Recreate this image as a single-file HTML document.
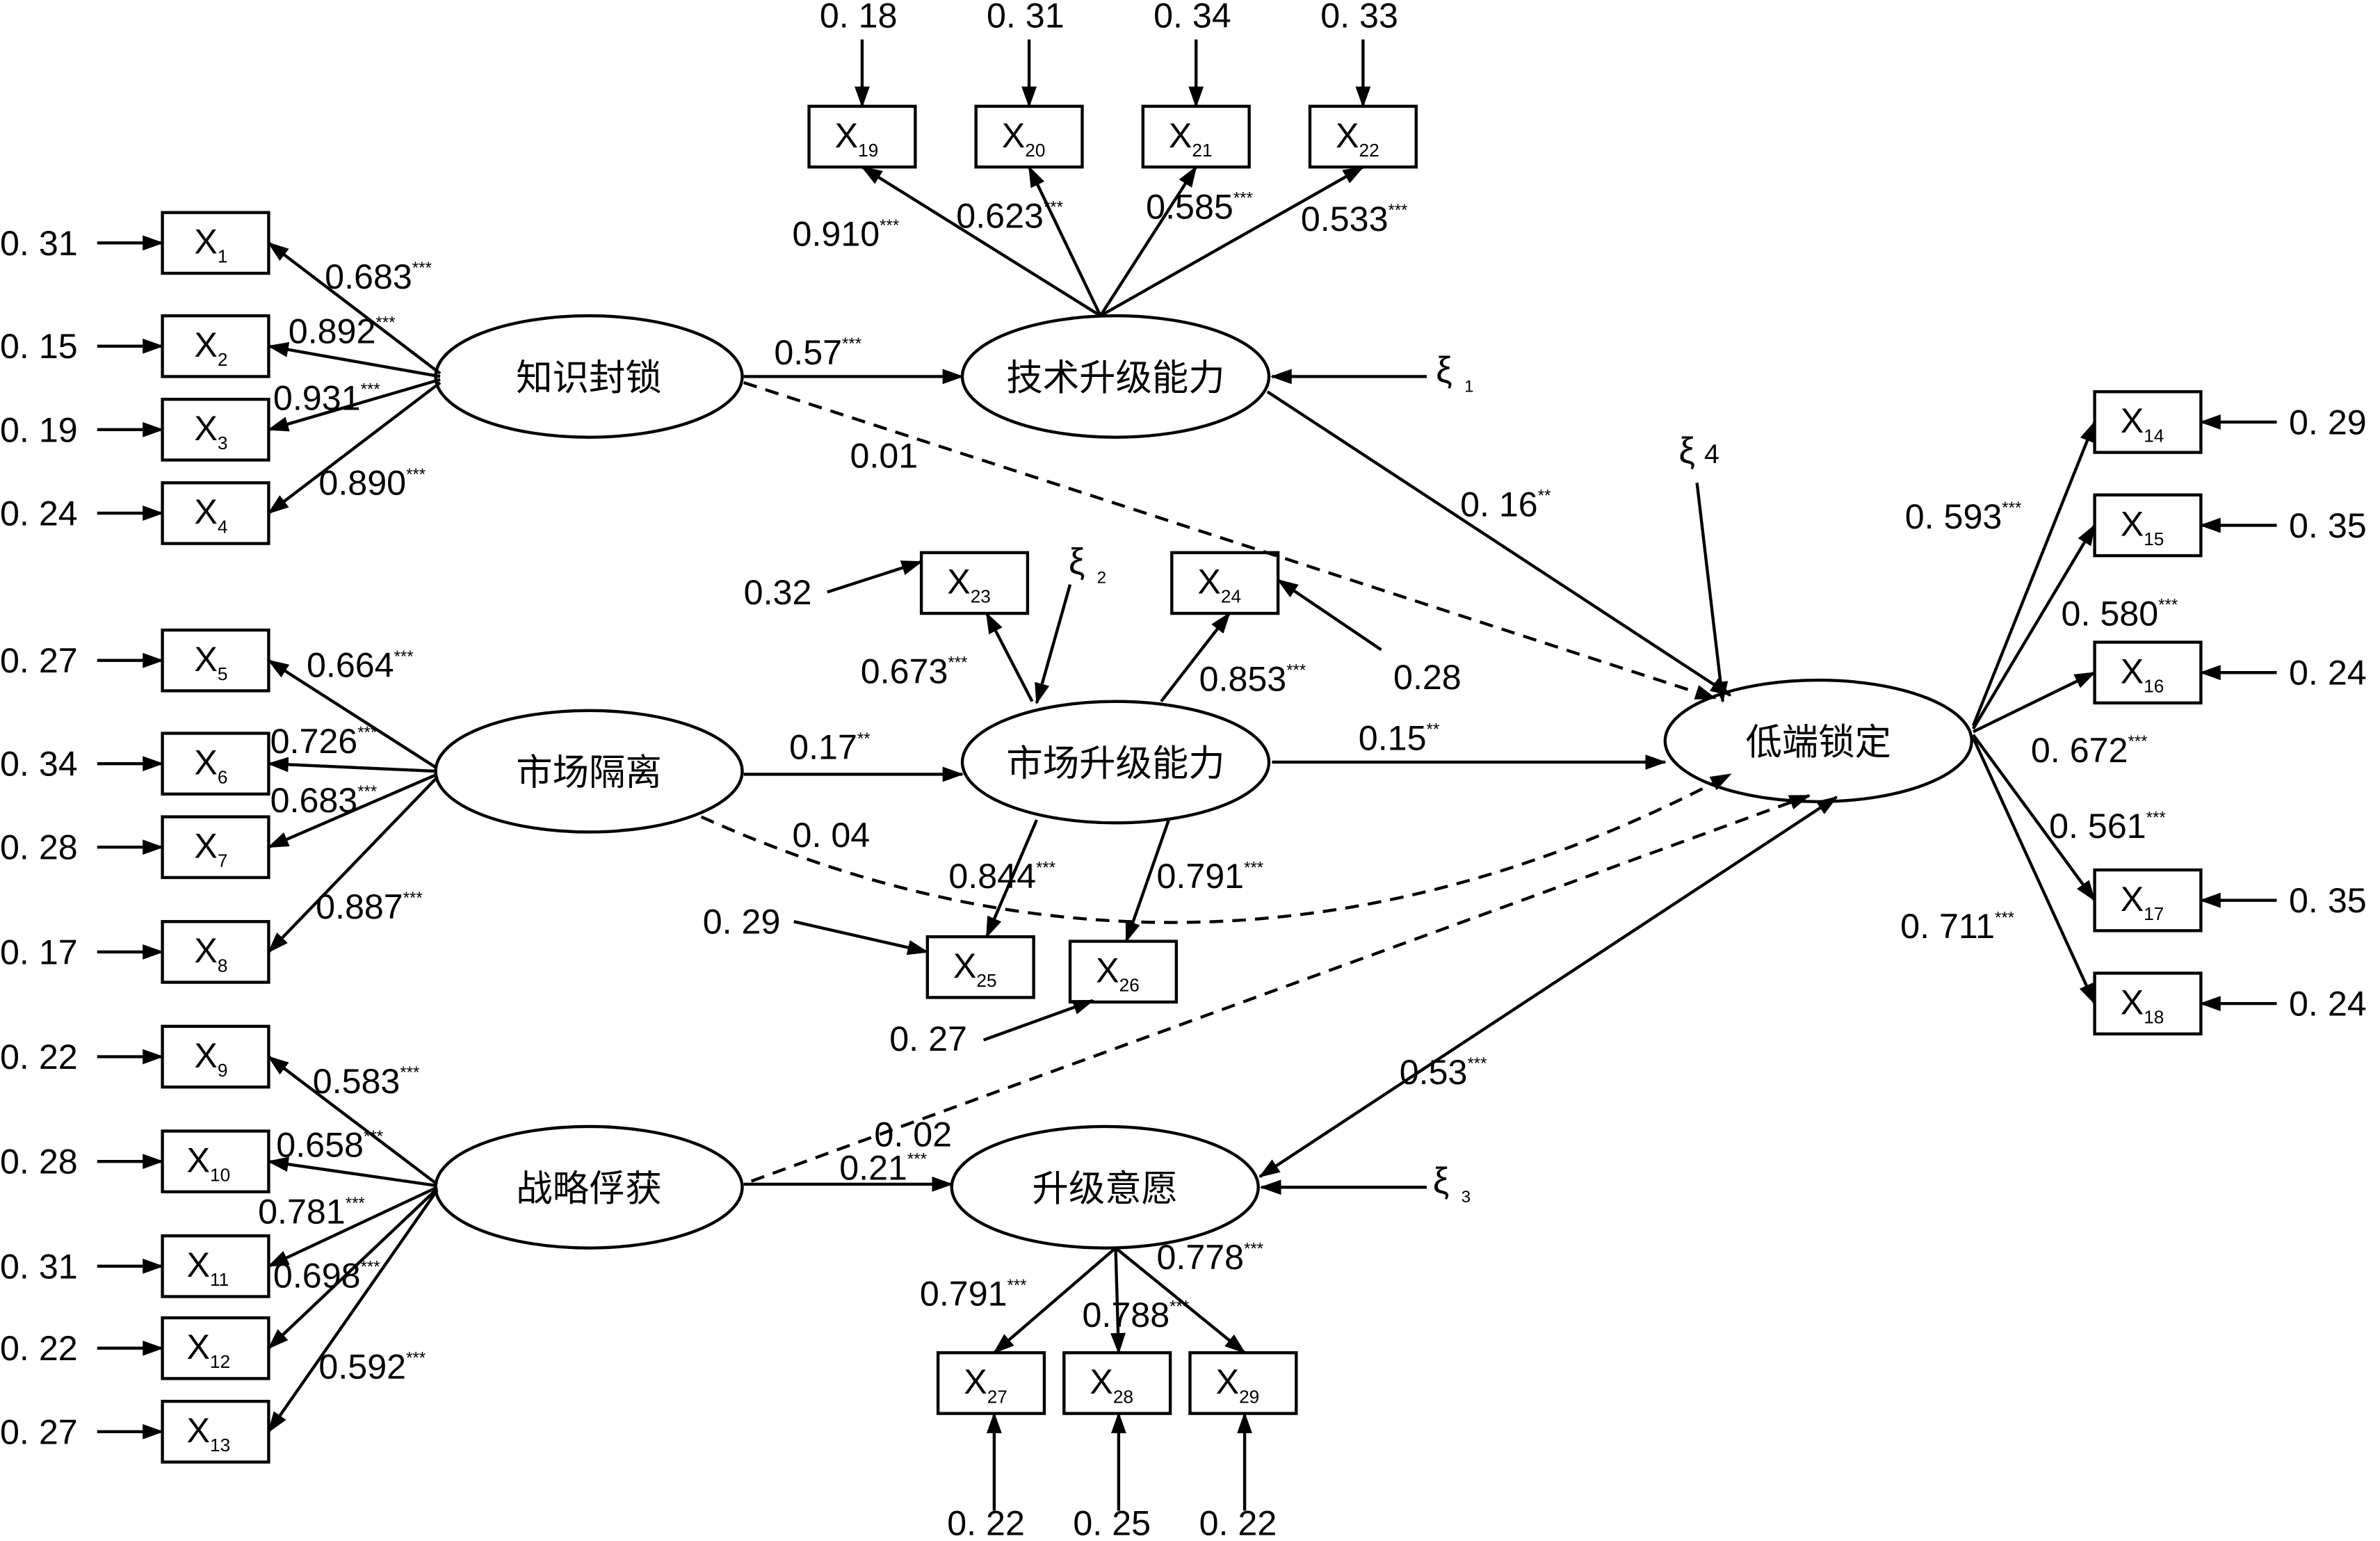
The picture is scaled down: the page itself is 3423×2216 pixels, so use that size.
<!DOCTYPE html>
<html><head><meta charset="utf-8"><style>
html,body{margin:0;padding:0;background:#fff;}
svg{display:block;}
text{font-family:"Liberation Sans","Noto Sans CJK SC",sans-serif;fill:#000;}
.n{font-size:23px;}
.c{font-size:24px;font-family:"Liberation Serif","Noto Serif CJK SC",serif;}
.b{font-size:23px;font-family:"Liberation Serif",serif;}
.s{font-size:11px;}
.b .s{font-size:12px;}
</style></head><body>
<svg width="3423" height="2216" viewBox="0 0 1568 1015" preserveAspectRatio="none" xmlns="http://www.w3.org/2000/svg">
<defs><marker id="a" markerWidth="14" markerHeight="10" refX="13" refY="5" orient="auto-start-reverse" markerUnits="userSpaceOnUse"><path d="M0,0 L14,5 L0,10z" fill="#000"/></marker></defs>
<g stroke="#000" stroke-width="2" fill="none">
<ellipse cx="388" cy="248" rx="101" ry="40"/>
<ellipse cx="388" cy="508" rx="101" ry="40"/>
<ellipse cx="388" cy="782" rx="101" ry="40"/>
<ellipse cx="735" cy="248" rx="101" ry="40"/>
<ellipse cx="735" cy="502" rx="101" ry="40"/>
<ellipse cx="728" cy="782" rx="101" ry="40"/>
<ellipse cx="1198" cy="488" rx="101" ry="40"/>
<rect x="107" y="140" width="70" height="40"/><rect x="107" y="208" width="70" height="40"/>
<rect x="107" y="263" width="70" height="40"/><rect x="107" y="318" width="70" height="40"/>
<rect x="107" y="415" width="70" height="40"/><rect x="107" y="483" width="70" height="40"/>
<rect x="107" y="538" width="70" height="40"/><rect x="107" y="607" width="70" height="40"/>
<rect x="107" y="676" width="70" height="40"/><rect x="107" y="745" width="70" height="40"/>
<rect x="107" y="814" width="70" height="40"/><rect x="107" y="868" width="70" height="40"/>
<rect x="107" y="923" width="70" height="40"/>
<rect x="533" y="70" width="70" height="40"/><rect x="643" y="70" width="70" height="40"/>
<rect x="753" y="70" width="70" height="40"/><rect x="863" y="70" width="70" height="40"/>
<rect x="607" y="364" width="70" height="40"/><rect x="772" y="364" width="70" height="40"/>
<rect x="611" y="617" width="70" height="40"/><rect x="705" y="620" width="70" height="40"/>
<rect x="618" y="891" width="70" height="40"/><rect x="701" y="891" width="70" height="40"/><rect x="784" y="891" width="70" height="40"/>
<rect x="1380" y="258" width="70" height="40"/><rect x="1380" y="326" width="70" height="40"/>
<rect x="1380" y="423" width="70" height="40"/><rect x="1380" y="573" width="70" height="40"/>
<rect x="1380" y="641" width="70" height="40"/>
</g>
<g stroke="#000" stroke-width="2" fill="none" marker-end="url(#a)">
<line x1="64" y1="160" x2="107" y2="160"/><line x1="64" y1="228" x2="107" y2="228"/>
<line x1="64" y1="283" x2="107" y2="283"/><line x1="64" y1="338" x2="107" y2="338"/>
<line x1="64" y1="435" x2="107" y2="435"/><line x1="64" y1="503" x2="107" y2="503"/>
<line x1="64" y1="558" x2="107" y2="558"/><line x1="64" y1="627" x2="107" y2="627"/>
<line x1="64" y1="696" x2="107" y2="696"/><line x1="64" y1="765" x2="107" y2="765"/>
<line x1="64" y1="834" x2="107" y2="834"/><line x1="64" y1="888" x2="107" y2="888"/>
<line x1="64" y1="943" x2="107" y2="943"/>
<line x1="290" y1="246" x2="177" y2="160"/><line x1="290" y1="248" x2="177" y2="228"/>
<line x1="290" y1="250" x2="177" y2="283"/><line x1="290" y1="252" x2="177" y2="338"/>
<line x1="288" y1="506" x2="177" y2="435"/><line x1="288" y1="508" x2="177" y2="503"/>
<line x1="288" y1="510" x2="177" y2="558"/><line x1="288" y1="512" x2="177" y2="627"/>
<line x1="288" y1="780" x2="177" y2="696"/><line x1="288" y1="781" x2="177" y2="765"/>
<line x1="288" y1="782" x2="177" y2="834"/><line x1="288" y1="783" x2="177" y2="888"/>
<line x1="288" y1="784" x2="177" y2="943"/>
<line x1="568" y1="26" x2="568" y2="70"/><line x1="678" y1="26" x2="678" y2="70"/>
<line x1="788" y1="26" x2="788" y2="70"/><line x1="898" y1="26" x2="898" y2="70"/>
<line x1="725" y1="208" x2="568" y2="110"/><line x1="725" y1="208" x2="678" y2="110"/>
<line x1="725" y1="208" x2="788" y2="110"/><line x1="725" y1="208" x2="898" y2="110"/>
<line x1="490" y1="248" x2="634" y2="248"/>
<line x1="490" y1="510" x2="634" y2="510"/>
<line x1="490" y1="780" x2="627" y2="780"/>
<line x1="838" y1="502" x2="1097" y2="502"/>
<line x1="835" y1="258" x2="1140" y2="458"/>
<line x1="940" y1="248" x2="838" y2="248"/>
<line x1="940" y1="782" x2="831" y2="782"/>
<line x1="1118" y1="318" x2="1135" y2="462"/>
<line x1="830" y1="775" x2="1210" y2="525" marker-start="url(#a)"/>
<line x1="705" y1="385" x2="683" y2="463"/>
<line x1="680" y1="462" x2="650" y2="404"/>
<line x1="765" y1="462" x2="810" y2="404"/>
<line x1="910" y1="428" x2="842" y2="382"/>
<line x1="545" y1="390" x2="607" y2="370"/>
<line x1="683" y1="540" x2="650" y2="617"/>
<line x1="770" y1="540" x2="742" y2="620"/>
<line x1="523" y1="607" x2="611" y2="627"/>
<line x1="648" y1="685" x2="720" y2="659"/>
<line x1="735" y1="822" x2="655" y2="891"/><line x1="735" y1="822" x2="737" y2="891"/>
<line x1="735" y1="822" x2="820" y2="891"/>
<line x1="655" y1="995" x2="655" y2="931"/><line x1="737" y1="995" x2="737" y2="931"/>
<line x1="820" y1="995" x2="820" y2="931"/>
<line x1="1300" y1="478" x2="1380" y2="278"/><line x1="1300" y1="480" x2="1380" y2="346"/>
<line x1="1300" y1="482" x2="1380" y2="443"/><line x1="1300" y1="484" x2="1380" y2="593"/>
<line x1="1300" y1="486" x2="1380" y2="661"/>
<line x1="1500" y1="278" x2="1450" y2="278"/><line x1="1500" y1="346" x2="1450" y2="346"/>
<line x1="1500" y1="443" x2="1450" y2="443"/><line x1="1500" y1="593" x2="1450" y2="593"/>
<line x1="1500" y1="661" x2="1450" y2="661"/>
<line x1="490" y1="252" x2="1130" y2="460" stroke-dasharray="9,6"/>
<path d="M462,538 Q800,690 1140,510" stroke-dasharray="9,6"/>
<line x1="495" y1="778" x2="1192" y2="524" stroke-dasharray="9,6"/>
</g>
<g class="c" text-anchor="middle">
<text x="388" y="257">知识封锁</text><text x="388" y="517">市场隔离</text><text x="388" y="791">战略俘获</text>
<text x="735" y="257">技术升级能力</text><text x="735" y="511">市场升级能力</text><text x="728" y="791">升级意愿</text>
<text x="1198" y="497">低端锁定</text>
</g>
<g class="b">
<text x="128" y="167">X<tspan class="s" dy="6">1</tspan></text>
<text x="128" y="235">X<tspan class="s" dy="6">2</tspan></text>
<text x="128" y="290">X<tspan class="s" dy="6">3</tspan></text>
<text x="128" y="345">X<tspan class="s" dy="6">4</tspan></text>
<text x="128" y="442">X<tspan class="s" dy="6">5</tspan></text>
<text x="128" y="510">X<tspan class="s" dy="6">6</tspan></text>
<text x="128" y="565">X<tspan class="s" dy="6">7</tspan></text>
<text x="128" y="634">X<tspan class="s" dy="6">8</tspan></text>
<text x="128" y="703">X<tspan class="s" dy="6">9</tspan></text>
<text x="123" y="772">X<tspan class="s" dy="6">10</tspan></text>
<text x="123" y="841">X<tspan class="s" dy="6">11</tspan></text>
<text x="123" y="895">X<tspan class="s" dy="6">12</tspan></text>
<text x="123" y="950">X<tspan class="s" dy="6">13</tspan></text>
<text x="550" y="97">X<tspan class="s" dy="6">19</tspan></text>
<text x="660" y="97">X<tspan class="s" dy="6">20</tspan></text>
<text x="770" y="97">X<tspan class="s" dy="6">21</tspan></text>
<text x="880" y="97">X<tspan class="s" dy="6">22</tspan></text>
<text x="624" y="391">X<tspan class="s" dy="6">23</tspan></text>
<text x="789" y="391">X<tspan class="s" dy="6">24</tspan></text>
<text x="628" y="644">X<tspan class="s" dy="6">25</tspan></text>
<text x="722" y="647">X<tspan class="s" dy="6">26</tspan></text>
<text x="635" y="918">X<tspan class="s" dy="6">27</tspan></text>
<text x="718" y="918">X<tspan class="s" dy="6">28</tspan></text>
<text x="801" y="918">X<tspan class="s" dy="6">29</tspan></text>
<text x="1397" y="285">X<tspan class="s" dy="6">14</tspan></text>
<text x="1397" y="353">X<tspan class="s" dy="6">15</tspan></text>
<text x="1397" y="450">X<tspan class="s" dy="6">16</tspan></text>
<text x="1397" y="600">X<tspan class="s" dy="6">17</tspan></text>
<text x="1397" y="668">X<tspan class="s" dy="6">18</tspan></text>
</g>
<g class="n">
<text x="0" y="168">0. 31</text><text x="0" y="236">0. 15</text><text x="0" y="291">0. 19</text><text x="0" y="346">0. 24</text>
<text x="0" y="443">0. 27</text><text x="0" y="511">0. 34</text><text x="0" y="566">0. 28</text><text x="0" y="635">0. 17</text>
<text x="0" y="704">0. 22</text><text x="0" y="773">0. 28</text><text x="0" y="842">0. 31</text><text x="0" y="896">0. 22</text><text x="0" y="951">0. 27</text>
<text x="540" y="18">0. 18</text><text x="650" y="18">0. 31</text><text x="760" y="18">0. 34</text><text x="870" y="18">0. 33</text>
<text x="1508" y="286">0. 29</text><text x="1508" y="354">0. 35</text><text x="1508" y="451">0. 24</text><text x="1508" y="601">0. 35</text><text x="1508" y="669">0. 24</text>
<text x="624" y="1011">0. 22</text><text x="707" y="1011">0. 25</text><text x="790" y="1011">0. 22</text>
<text x="490" y="398">0.32</text><text x="918" y="454">0.28</text><text x="463" y="615">0. 29</text><text x="586" y="692">0. 27</text>
<text x="214" y="190">0.683<tspan class="s" dy="-10">***</tspan></text>
<text x="190" y="226">0.892<tspan class="s" dy="-10">***</tspan></text>
<text x="180" y="270">0.931<tspan class="s" dy="-10">***</tspan></text>
<text x="210" y="326">0.890<tspan class="s" dy="-10">***</tspan></text>
<text x="202" y="446">0.664<tspan class="s" dy="-10">***</tspan></text>
<text x="178" y="496">0.726<tspan class="s" dy="-10">***</tspan></text>
<text x="178" y="535">0.683<tspan class="s" dy="-10">***</tspan></text>
<text x="208" y="605">0.887<tspan class="s" dy="-10">***</tspan></text>
<text x="206" y="720">0.583<tspan class="s" dy="-10">***</tspan></text>
<text x="182" y="762">0.658<tspan class="s" dy="-10">***</tspan></text>
<text x="170" y="806">0.781<tspan class="s" dy="-10">***</tspan></text>
<text x="180" y="848">0.698<tspan class="s" dy="-10">***</tspan></text>
<text x="210" y="908">0.592<tspan class="s" dy="-10">***</tspan></text>
<text x="522" y="162">0.910<tspan class="s" dy="-10">***</tspan></text>
<text x="630" y="150">0.623<tspan class="s" dy="-10">***</tspan></text>
<text x="755" y="144">0.585<tspan class="s" dy="-10">***</tspan></text>
<text x="857" y="152">0.533<tspan class="s" dy="-10">***</tspan></text>
<text x="510" y="240">0.57<tspan class="s" dy="-10">***</tspan></text>
<text x="560" y="308">0.01</text>
<text x="962" y="340">0. 16<tspan class="s" dy="-10">**</tspan></text>
<text x="520" y="500">0.17<tspan class="s" dy="-10">**</tspan></text>
<text x="522" y="558">0. 04</text>
<text x="895" y="494">0.15<tspan class="s" dy="-10">**</tspan></text>
<text x="567" y="450">0.673<tspan class="s" dy="-10">***</tspan></text>
<text x="790" y="455">0.853<tspan class="s" dy="-10">***</tspan></text>
<text x="625" y="585">0.844<tspan class="s" dy="-10">***</tspan></text>
<text x="762" y="585">0.791<tspan class="s" dy="-10">***</tspan></text>
<text x="922" y="714">0.53<tspan class="s" dy="-10">***</tspan></text>
<text x="576" y="755">0. 02</text>
<text x="553" y="777">0.21<tspan class="s" dy="-10">***</tspan></text>
<text x="606" y="860">0.791<tspan class="s" dy="-10">***</tspan></text>
<text x="713" y="874">0.788<tspan class="s" dy="-10">***</tspan></text>
<text x="762" y="836">0.778<tspan class="s" dy="-10">***</tspan></text>
<text x="1255" y="348">0. 593<tspan class="s" dy="-10">***</tspan></text>
<text x="1358" y="412">0. 580<tspan class="s" dy="-10">***</tspan></text>
<text x="1338" y="502">0. 672<tspan class="s" dy="-10">***</tspan></text>
<text x="1350" y="552">0. 561<tspan class="s" dy="-10">***</tspan></text>
<text x="1252" y="618">0. 711<tspan class="s" dy="-10">***</tspan></text>
</g>
<g class="c">
<text x="946" y="252">ξ<tspan class="s" dx="8" dy="6">1</tspan></text>
<text x="704" y="378">ξ<tspan class="s" dx="8" dy="6">2</tspan></text>
<text x="944" y="786">ξ<tspan class="s" dx="8" dy="6">3</tspan></text>
<text x="1106" y="305">ξ<tspan dx="6" style="font-size:18px">4</tspan></text>
</g>
</svg>
</body></html>
